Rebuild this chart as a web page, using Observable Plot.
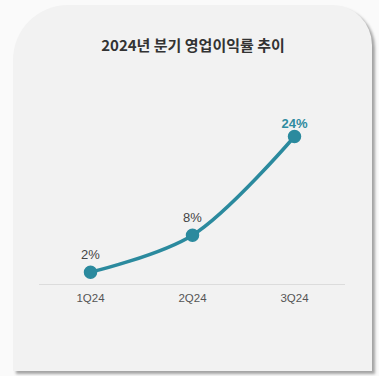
<!DOCTYPE html>
<html>
<head>
<meta charset="utf-8">
<script src="https://cdn.jsdelivr.net/npm/d3@7"></script>
<script src="https://cdn.jsdelivr.net/npm/@observablehq/plot@0.6"></script>
<style>
  html, body { margin: 0; padding: 0; background: #fafafa; width: 379px; height: 376px; overflow: hidden; }
  #card {
    position: absolute; left: 13px; top: 5px; width: 359px; height: 366px;
    background: #f2f2f2; border-radius: 55px 40px 0 0;
    box-shadow: 3px 3px 3px rgba(0,0,0,0.35);
  }
  #title {
    position: absolute; left: 0; top: 34px; width: 386px; text-align: center;
    font-family: "Noto Sans CJK KR", "Noto Sans", sans-serif; font-weight: 700;
    font-size: 15px; color: #333; line-height: 22px;
  }
  #chart { position: absolute; left: 0; top: 0; }
</style>
</head>
<body>
<div id="card"></div>
<div id="title">2024년 분기 영업이익률 추이</div>
<div id="chart"></div>
<script>
const quarters = ["1Q24", "2Q24", "3Q24"];
const margins = [2, 8, 24];
const labels = ["2%", "8%", "24%"];

const data = quarters.map((q, i) => ({q, v: margins[i], label: labels[i], last: i === quarters.length - 1}));
const teal = "#2b8a9e";

const chart = Plot.plot({
  width: 379,
  height: 376,
  marginLeft: 39,
  marginRight: 34,
  marginTop: 136,
  marginBottom: 92,
  style: { background: "transparent", fontFamily: "'Liberation Sans', Arial, sans-serif" },
  x: { type: "band", domain: quarters, padding: 0, label: null },
  y: { domain: [0, 24], axis: null },
  marks: [
    Plot.ruleY([0], { stroke: "#dcdcdc", strokeWidth: 1 }),
    Plot.axisX({ tickSize: 0, tickPadding: 9, fontSize: 11.5, color: "#555", label: null }),
    Plot.line(data, { x: "q", y: "v", stroke: teal, strokeWidth: 3.5, curve: "catmull-rom" }),
    Plot.dot(data, { x: "q", y: "v", r: 6, fill: teal, stroke: teal }),
    Plot.text(data.filter(d => !d.last), { x: "q", y: "v", text: "label", dy: -17, fontSize: 13, fill: "#444" }),
    Plot.text(data.filter(d => d.last), { x: "q", y: "v", text: "label", dy: -13, fontSize: 13, fontWeight: "bold", fill: "#2e8ba0" })
  ]
});
document.getElementById("chart").appendChild(chart);
</script>
</body>
</html>
